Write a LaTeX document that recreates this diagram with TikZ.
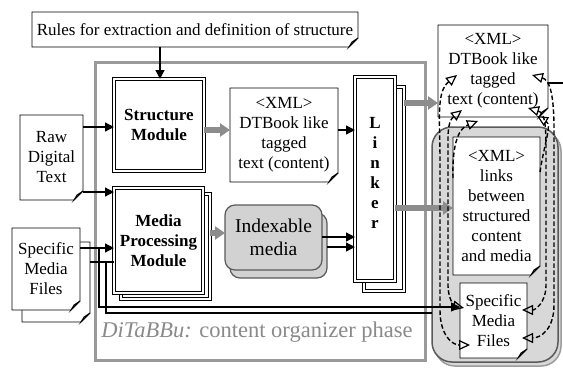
\documentclass[tikz,border=0pt]{standalone}
\usepackage{fontspec}
\setmainfont{Liberation Serif}
\usetikzlibrary{arrows.meta,calc}
\pgfdeclarelayer{bg}
\pgfsetlayers{bg,main}
\definecolor{framegray}{HTML}{9A9A9A}
\definecolor{arrgray}{HTML}{8C8C8C}
\definecolor{boxgray}{HTML}{D8D8D8}
\definecolor{idxgray}{HTML}{D2D2D2}
\definecolor{txtgray}{HTML}{8A8A8A}
\definecolor{edgegray}{HTML}{5A5A5A}
\newcommand\notefold[1]{%
  \filldraw[notepath] (#1.north west) -- (#1.north east) -- ([yshift=9pt]#1.south east) -- ([xshift=-9pt]#1.south east) -- (#1.south west) -- cycle;
  \filldraw[notepath,fill=gray!25] ([yshift=9pt]#1.south east) -- ([xshift=-6pt,yshift=5pt]#1.south east) -- ([xshift=-9pt]#1.south east) -- cycle;}
\tikzset{
 notebox/.style={draw=none, outer sep=0pt, inner sep=1pt, align=center},
 notepath/.style={draw=black, fill=white, line width=0.9pt, line join=miter},
 dbox/.style={draw=black, line width=1.1pt, double=white, double distance=1.6pt, fill=white, inner sep=1pt, align=center, outer sep=0pt},
 bftext/.style={font=\fontsize{17}{20}\selectfont\bfseries, align=center},
 idxbox/.style={draw=edgegray, fill=idxgray, line width=1.2pt, rounded corners=10pt, minimum width=97pt, minimum height=65pt, align=center, font=\fontsize{19.5}{23}\selectfont, outer sep=0pt},
 gboxstyle/.style={draw=edgegray, fill=boxgray, line width=1.5pt, rounded corners=20pt, minimum width=126pt, minimum height=235pt, outer sep=0pt},
 framebox/.style={draw=framegray, line width=3pt, minimum width=330pt, minimum height=298pt},
 arr/.style={-{Triangle[length=9pt,width=9pt]}, line width=1.3pt},
 ln/.style={line width=1.3pt},
 garr/.style={-{Triangle[length=10pt,width=13pt]}, line width=6pt, draw=arrgray},
 dlink/.style={line width=1.4pt, dash pattern=on 4.5pt off 2.5pt, {Triangle[open,length=11pt,width=10pt,line width=1.2pt]}-{Triangle[open,length=11pt,width=10pt,line width=1.2pt]}},
 dlinkend/.style={line width=1.4pt, dash pattern=on 4.5pt off 2.5pt, -{Triangle[open,length=11pt,width=10pt,line width=1.2pt]}},
}
\begin{document}
\begin{tikzpicture}[x=1pt,y=-1pt,font=\fontsize{17}{20}\selectfont]
\useasboundingbox (0,0) rectangle (563,370);

\begin{pgfonlayer}{bg}
\fill[white] (0,0) rectangle (563,370);
\node[gboxstyle, draw=edgegray!60] (gboxback) at (498,248.5) {};
\node[gboxstyle] (gbox) at (495,244.5) {};
\node[framebox] (frame) at (260,211) {};
\end{pgfonlayer}

% notes (text only; outlines on bg layer)
\node[notebox, minimum width=326pt, minimum height=35pt] (rules) at (195,29.5) {Rules for extraction and definition of structure};
\node[notebox, minimum width=63pt, minimum height=85pt] (raw) at (51.5,157.5) {Raw\\Digital\\Text};
\node[notebox, minimum width=68pt, minimum height=80pt] (smfback) at (56,282) {};
\node[notebox, minimum width=68pt, minimum height=82pt] (smf) at (46,269) {Specific\\Media\\Files};
\node[notebox, minimum width=108pt, minimum height=94pt] (xml) at (284,135) {<XML>\\DTBook like\\tagged\\text (content)};
\node[notebox, minimum width=110pt, minimum height=92pt] (topxml) at (493,71) {<XML>\\DTBook like\\tagged\\text (content)};
\node[notebox, minimum width=87pt, minimum height=138pt] (links) at (496.5,206) {<XML>\\links\\between\\structured\\content\\and media};
\node[notebox, minimum width=67pt, minimum height=75pt] (smfr) at (493.5,320.5) {Specific\\Media\\Files};

% double-line modules
\node[dbox, minimum width=90pt, minimum height=92pt, bftext] (struct) at (159,125) {Structure\\Module};
\node[dbox, minimum width=89pt, minimum height=105pt] (mpmback) at (165.5,246.5) {};
\node[dbox, minimum width=89pt, minimum height=105pt, bftext] (mpm) at (158.5,240.5) {Media\\Processing\\Module};
\node[dbox, minimum width=40pt, minimum height=204pt] (linkerback) at (384,189) {};
\node[dbox, minimum width=40pt, minimum height=204pt] (linker) at (375,179) {};
\node[bftext] (linkertext) at (375,172.5) {L\\i\\n\\k\\e\\r};

% indexable media
\node[idxbox] (idxback) at (278.5,245.5) {};
\node[idxbox] (idx) at (273.5,237.5) {Indexable\\media};

% phase label
\node[font=\fontsize{22.5}{26}\selectfont, text=txtgray, anchor=base] (phase) at (257,337) {\textit{DiTaBBu:} content organizer phase};

% black connectors
\draw[arr] (rules.south -| 160,0) -- (struct.north -| 160,0);
\draw[arr] (raw.east |- 0,127) -- (struct.west |- 0,127);
\draw[arr] (raw.east |- 0,192) -- (mpm.west |- 0,192);
\draw[arr] (smf.east |- 0,248) -- (mpm.west |- 0,248);
\draw[ln] (smfback.east |- 0,262) -- (mpm.west |- 0,262);
\draw[arr] (smf.east |- 0,248) -| (99,307) -- (smfr.west |- 0,307);
\draw[ln] (smfback.east |- 0,262) -| (106,313) -- (gbox.west |- 0,313);
\draw[arr] (xml.east |- 0,130) -- (linker.west |- 0,130);
\draw[arr] (idx.east |- 0,237) -- (linker.west |- 0,237);
\draw[arr] (idxback.east |- 0,247) -- (linker.west |- 0,247);
\coordinate (rightedge) at (563,83);
\draw[ln] (topxml.east |- 0,83) -- (rightedge);

% grey connectors
\draw[garr] (struct.east |- 0,130) -- (xml.west |- 0,130);
\draw[garr] (mpmback.east |- 0,233) -- (idx.west |- 0,233);
\draw[garr] (linkerback.east |- 0,103) -- (topxml.west |- 0,103);
\draw[garr] (linker.east |- 0,208) -- (links.west |- 0,208);

% dashed link arrows
\coordinate (l1a) at (457,75);  \coordinate (l1b) at (470,345);
\coordinate (l2a) at (462,110); \coordinate (l2b) at (464,308);
\coordinate (l3a) at (478,121);
\coordinate (r1a) at (532,75);  \coordinate (r1b) at (522,338);
\coordinate (r2a) at (528,108); \coordinate (r2b) at (522,310);
\coordinate (r3a) at (537,116);
\draw[dlink] (l1a) .. controls (436,92) and (440,120) .. (440,160) -- (440,310) .. controls (440,335) and (452,345) .. (l1b);
\draw[dlink] (l2a) .. controls (447,122) and (448,135) .. (448,160) -- (448,285) .. controls (448,300) and (455,306) .. (l2b);
\draw[dlinkend] (links.west |- 0,178) .. controls (452,140) and (460,128) .. (l3a);
\draw[dlink] (r1a) .. controls (550,80) and (554,95) .. (554,130) -- (554,305) .. controls (554,330) and (540,338) .. (r1b);
\draw[dlink] (r2a) .. controls (545,113) and (546,125) .. (546,150) -- (546,285) .. controls (546,303) and (535,310) .. (r2b);
\draw[dlinkend] (links.east |- 0,172) .. controls (545,140) and (552,125) .. (r3a);

% note outlines
\begin{pgfonlayer}{bg}
\notefold{rules}
\notefold{raw}
\notefold{smfback}
\notefold{smf}
\notefold{xml}
\notefold{topxml}
\notefold{links}
\notefold{smfr}
\end{pgfonlayer}
\end{tikzpicture}
\end{document}
